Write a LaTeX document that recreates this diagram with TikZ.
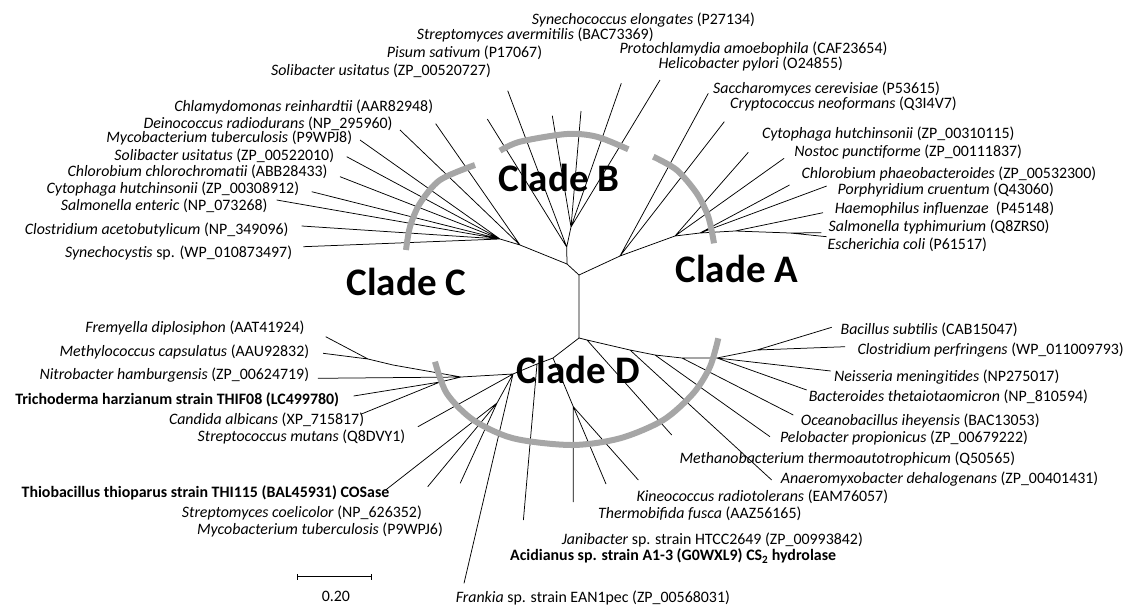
\documentclass[tikz,border=0pt]{standalone}
\usepackage{fontspec}
\setmainfont{Carlito}
\definecolor{arcgray}{RGB}{166,166,166}
\newcommand\labfont{\fontsize{15.9}{17}\selectfont}
\newcommand\cladefont{\fontsize{39}{40}\selectfont\bfseries}
\tikzset{
  br/.style={line width=0.75pt, black},
  arcg/.style={line width=6pt, arcgray},
  lab/.style={font=\labfont, inner sep=0pt},
  lw/.style={lab, anchor=west},
  le/.style={lab, anchor=east},
  clade/.style={font=\cladefont, inner sep=0pt},
}
\begin{document}
\begin{tikzpicture}[x=1pt,y=-1pt]
\useasboundingbox (0,0) rectangle (1125,606);
% ---------- labels ----------
% clade B
\node[lw] (lSyne) at (531.7,20) {\textit{Synechococcus elongates} (P27134)};
\node[lw] (lSave) at (416.7,35) {\textit{Streptomyces avermitilis} (BAC73369)};
\node[lw] (lPisu) at (386.7,52.7) {\textit{Pisum sativum} (P17067)};
\node[le] (lSol1) at (491,71) {\textit{Solibacter usitatus} (ZP\_00520727)};
\node[lw] (lProt) at (619.3,49) {\textit{Protochlamydia amoebophila} (CAF23654)};
\node[lw] (lHeli) at (658.3,64) {\textit{Helicobacter pylori} (O24855)};
% clade C
\node[le] (lChla) at (433.3,107.3) {\textit{Chlamydomonas reinhardtii} (AAR82948)};
\node[le] (lDein) at (392.7,123.3) {\textit{Deinococcus radiodurans} (NP\_295960)};
\node[le] (lMyc8) at (352.3,138.3) {\textit{Mycobacterium tuberculosis} (P9WPJ8)};
\node[le] (lSol2) at (334.3,156) {\textit{Solibacter usitatus} (ZP\_00522010)};
\node[le] (lChlc) at (327.7,171.7) {\textit{Chlorobium chlorochromatii} (ABB28433)};
\node[le] (lCyt1) at (299.3,189.3) {\textit{Cytophaga hutchinsonii} (ZP\_00308912)};
\node[le] (lSale) at (267.7,205.3) {\textit{Salmonella enteric} (NP\_073268)};
\node[le] (lClac) at (288.7,230) {\textit{Clostridium acetobutylicum} (NP\_349096)};
\node[le] (lSync) at (292.3,253.3) {\textit{Synechocystis} sp. (WP\_010873497)};
% clade A
\node[lw] (lSacc) at (713,89) {\textit{Saccharomyces cerevisiae} (P53615)};
\node[lw] (lCryp) at (730,104) {\textit{Cryptococcus neoformans} (Q3I4V7)};
\node[lw] (lCyt2) at (761.8,134.3) {\textit{Cytophaga hutchinsonii} (ZP\_00310115)};
\node[lw] (lNost) at (794.2,152.3) {\textit{Nostoc punctiforme} (ZP\_00111837)};
\node[lw] (lChlp) at (801.4,174) {\textit{Chlorobium phaeobacteroides} (ZP\_00532300)};
\node[lw] (lPorp) at (837.5,190) {\textit{Porphyridium cruentum} (Q43060)};
\node[lw] (lHaem) at (834.6,209.3) {\textit{Haemophilus influenzae}\ \ (P45148)};
\node[lw] (lSalt) at (828.5,226.7) {\textit{Salmonella typhimurium} (Q8ZRS0)};
\node[lw] (lEsch) at (827.4,245) {\textit{Escherichia coli} (P61517)};
% clade D right
\node[lw] (lBaci) at (840.4,329.5) {\textit{Bacillus subtilis} (CAB15047)};
\node[lw] (lClpe) at (857.3,350) {\textit{Clostridium perfringens} (WP\_011009793)};
\node[lw] (lNeis) at (833.9,377) {\textit{Neisseria meningitides} (NP275017)};
\node[lw] (lBact) at (808.6,397) {\textit{Bacteroides thetaiotaomicron} (NP\_810594)};
\node[lw] (lOcea) at (800.7,421) {\textit{Oceanobacillus iheyensis} (BAC13053)};
\node[lw] (lPelo) at (779.8,438) {\textit{Pelobacter propionicus} (ZP\_00679222)};
\node[lw] (lMeth) at (679.3,459) {\textit{Methanobacterium thermoautotrophicum} (Q50565)};
\node[lw] (lAnae) at (780.7,479) {\textit{Anaeromyxobacter dehalogenans} (ZP\_00401431)};
\node[lw] (lKine) at (636.3,497) {\textit{Kineococcus radiotolerans} (EAM76057)};
\node[lw] (lTher) at (598,514) {\textit{Thermobifida fusca} (AAZ56165)};
\node[lw] (lJani) at (561.7,540) {\textit{Janibacter} sp. strain HTCC2649 (ZP\_00993842)};
\node[lw] (lAcid) at (510,556) {\textbf{Acidianus sp. strain A1-3 (G0WXL9) CS\textsubscript{2} hydrolase}};
\node[lw] (lFran) at (455.6,598) {\textit{Frankia} sp. strain EAN1pec (ZP\_00568031)};
% clade D left
\node[le] (lFrem) at (304.6,328) {\textit{Fremyella diplosiphon} (AAT41924)};
\node[le] (lMeco) at (309.3,352) {\textit{Methylococcus capsulatus} (AAU92832)};
\node[le] (lNitr) at (309.3,375) {\textit{Nitrobacter hamburgensis} (ZP\_00624719)};
\node[le] (lTric) at (339.3,400) {\textbf{Trichoderma harzianum strain THIF08 (LC499780)}};
\node[le] (lCand) at (364.3,420) {\textit{Candida albicans} (XP\_715817)};
\node[le] (lStmu) at (405.4,437) {\textit{Streptococcus mutans} (Q8DVY1)};
\node[le] (lThio) at (389.4,493) {\textbf{Thiobacillus thioparus strain THI115 (BAL45931) COSase}};
\node[le] (lScoe) at (422,513) {\textit{Streptomyces coelicolor} (NP\_626352)};
\node[le] (lMyc6) at (443,530) {\textit{Mycobacterium tuberculosis} (P9WPJ6)};
% ---------- tree coordinates ----------
\coordinate (R1) at (579,275);  \coordinate (R2) at (579,338);
\coordinate (BC) at (567,264);  \coordinate (B1) at (566.7,247); \coordinate (B2) at (571,227);
\coordinate (C1) at (520,245);  \coordinate (C2) at (500,239);
\coordinate (A1) at (620,256);  \coordinate (A2) at (675,236); \coordinate (A3) at (700,233);
\coordinate (A4) at (735,231);  \coordinate (A5) at (790,233);
\coordinate (DR1) at (587,340); \coordinate (DR2) at (630,350); \coordinate (DR3) at (655,355);
\coordinate (DR4) at (682,358); \coordinate (DR5) at (717,358); \coordinate (DR6) at (757,350);
\coordinate (DL1) at (553,358); \coordinate (DLa) at (537,364); \coordinate (DL2) at (513,374);
\coordinate (DL3) at (461,377); \coordinate (DL4) at (393,365); \coordinate (DL5) at (368,359);
\coordinate (DLt) at (440,382); \coordinate (DL6) at (497,403); \coordinate (J) at (573.3,406.7);
% tips
\coordinate (tB1) at (487.3,119);  \coordinate (tB2) at (507.7,90.7); \coordinate (tB3) at (552.3,115.7);
\coordinate (tB4) at (581,111);    \coordinate (tB5) at (621.3,83.3); \coordinate (tB6) at (660,80);
\coordinate (tC1) at (435.7,123.7); \coordinate (tC2) at (400,130); \coordinate (tC3) at (360,140);
\coordinate (tC4) at (346.7,156.7); \coordinate (tC5) at (340,176.7); \coordinate (tC6) at (311.7,191.7);
\coordinate (tC7) at (276.7,200); \coordinate (tC8) at (301.7,226); \coordinate (tC9) at (303.3,246.7);
\coordinate (tA1) at (708.3,93.3); \coordinate (tA2) at (724.3,121.7); \coordinate (tA3) at (748.3,152.3);
\coordinate (tA4) at (784.1,158.3); \coordinate (tA5) at (789.5,185); \coordinate (tA6) at (826.7,186);
\coordinate (tA7) at (823,212.7); \coordinate (tA8) at (821.3,232.7); \coordinate (tA9) at (826.7,236.7);
\coordinate (tMeth) at (671.7,435); \coordinate (tAnae) at (771.7,480); \coordinate (tPelo) at (770,436.7);
\coordinate (tOcea) at (793.3,415); \coordinate (tBact) at (806.7,390); \coordinate (tNeis) at (830.7,371);
\coordinate (tClpe) at (845,346.7); \coordinate (tBaci) at (831.7,327.3);
\coordinate (tFrem) at (325.7,336.7); \coordinate (tMeco) at (323.2,353.3); \coordinate (tNitr) at (317.9,378.3);
\coordinate (tTric) at (353.6,396); \coordinate (tCand) at (360.7,414.3); \coordinate (tStmu) at (417.9,426.7);
\coordinate (tThio) at (385.6,490); \coordinate (tScoe) at (427.7,486.7); \coordinate (tMyc6) at (460.2,483.3);
\coordinate (tFran) at (464,583.3); \coordinate (tAcid) at (523.4,520);
\coordinate (tJani) at (573.3,502); \coordinate (tTher) at (606,484); \coordinate (tKine) at (638.3,480);
% ---------- branches ----------
\draw[br] (R1)--(R2) (R1)--(BC) (R1)--(A1);
\draw[br] (BC)--(B1) (B1)--(B2) (B1)--(tB1) (B1)--(tB2)
  (B2)--(tB3) (B2)--(tB4) (B2)--(tB5) (B2)--(tB6);
\draw[br] (BC)--(C1) (C1)--(tC1) (C1)--(tC2) (C1)--(C2)
  (C2)--(tC3) (C2)--(tC4) (C2)--(tC5) (C2)--(tC6) (C2)--(tC7) (C2)--(tC8) (C2)--(tC9);
\draw[br] (A1)--(tA1) (A1)--(tA2) (A1)--(A2) (A2)--(tA3) (A2)--(tA4) (A2)--(A3)
  (A3)--(tA5) (A3)--(tA6) (A3)--(A4) (A4)--(tA7) (A4)--(A5) (A5)--(tA8) (A5)--(tA9);
\draw[br] (R2)--(DR1)--(DR2)--(DR3)--(DR4)--(DR5)--(DR6)
  (DR1)--(tMeth) (DR2)--(tAnae) (DR3)--(tPelo) (DR4)--(tOcea)
  (DR5)--(tBact) (DR5)--(tNeis) (DR6)--(tClpe) (DR6)--(tBaci);
\draw[br] (R2)--(DL1)--(DLa)--(DL2)--(DL3)--(DL4)--(DL5)--(tMeco)
  (DL5)--(tFrem) (DL3)--(tNitr) (DL3)--(DLt) (DLt)--(tTric) (DLt)--(tCand)
  (DL2)--(tStmu) (DL2)--(DL6) (DL6)--(tThio) (DL6)--(tScoe) (DL6)--(tMyc6)
  (DL2)--(tFran) (DLa)--(tAcid) (DL1)--(J) (J)--(tJani) (J)--(tTher) (J)--(tKine);
% ---------- clade arcs ----------
\draw[arcg] plot[smooth] coordinates {(500,150.7) (520,141.7) (566.7,134) (596.7,136.7) (628.3,149.3)};
\draw[arcg] plot[smooth] coordinates {(475,165) (440,180) (420,203.3) (410,226.7) (406,250)};
\draw[arcg] plot[smooth] coordinates {(653.3,156.7) (676.7,170) (696.7,193.3) (708.3,216.7) (714,243.3)};
\draw[arcg] plot[smooth] coordinates {(435,361.7) (446.7,393.3) (473.3,420) (513.3,438.3) (571.7,445) (620,438.3) (663.3,420) (693.3,393.3) (710,366.7) (718.3,338.3)};
% ---------- clade names ----------
\node[clade] (cB) at (559,178) {Clade B};
\node[clade] (cC) at (406.5,282) {Clade C};
\node[clade] (cA) at (737,269) {Clade A};
\node[clade] (cD) at (578,370) {Clade D};
% ---------- scale bar ----------
\coordinate (sb1) at (297.6,576.7); \coordinate (sb2) at (371,576.7);
\draw[br] (sb1)--(sb2) ([yshift=-3pt]sb1)--([yshift=3pt]sb1) ([yshift=-3pt]sb2)--([yshift=3pt]sb2);
\node[lab] (sbl) at (335.9,596.5) {0.20};
\end{tikzpicture}
\end{document}
